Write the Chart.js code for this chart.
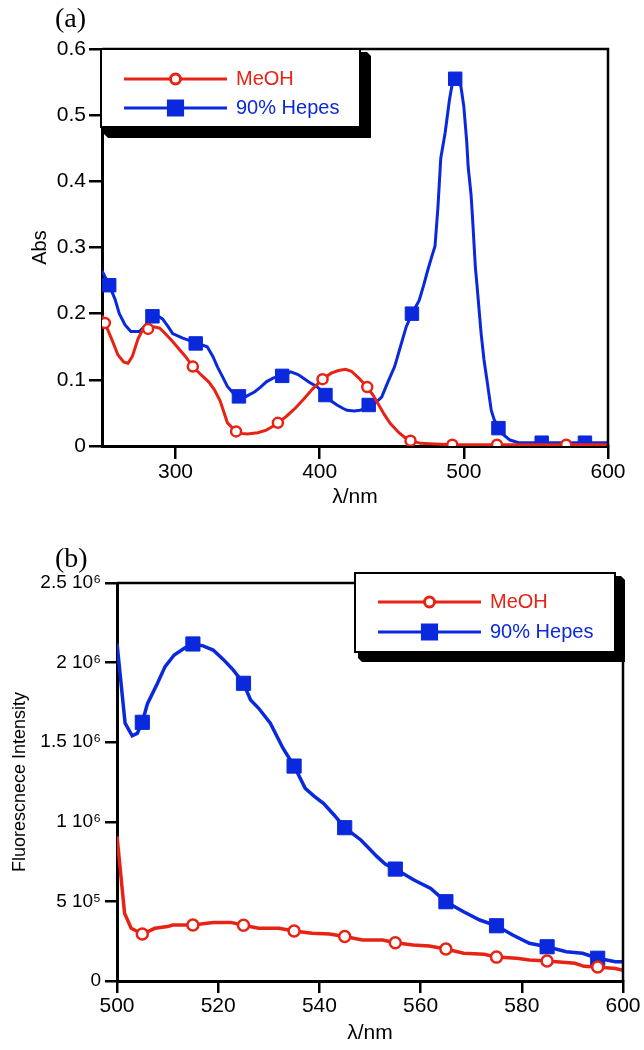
<!DOCTYPE html>
<html>
<head>
<meta charset="utf-8">
<script src="https://cdn.jsdelivr.net/npm/chart.js@4"></script>
<style>
  body { margin: 0; background: #fff; width: 644px; height: 1050px; position: relative; overflow: hidden; }
  canvas { position: absolute; left: 0; }
  .tag { position: absolute; left: 55px; font: 28px 'Liberation Serif', 'Times New Roman', serif; line-height: 1; }
</style>
</head>
<body>
<canvas id="abs" width="644" height="520" style="top:0"></canvas>
<canvas id="fl" width="644" height="530" style="top:520px"></canvas>
<div class="tag" style="top:4px">(a)</div>
<div class="tag" style="top:544px">(b)</div>
<script>
const seriesNames = ['MeOH', '90% Hepes']
const red = '#e62314'
const blue = '#0a28dc'

// (a) absorbance
const absMeohNm = [249, 251, 256, 260, 264, 267, 270, 274, 277, 281, 285, 289, 292, 298, 303, 307, 312, 318, 323, 327, 331, 336, 342, 346, 350, 357, 363, 367, 371, 377, 383, 389, 395, 402, 408, 413, 418, 422, 427, 433, 437, 441, 445, 449, 455, 459, 463, 470, 480, 492, 510, 523, 540, 571, 600]
const absMeoh = [0.197, 0.186, 0.160, 0.138, 0.127, 0.125, 0.135, 0.162, 0.175, 0.177, 0.180, 0.178, 0.172, 0.158, 0.145, 0.135, 0.120, 0.107, 0.097, 0.085, 0.068, 0.035, 0.022, 0.019, 0.018, 0.020, 0.024, 0.029, 0.035, 0.045, 0.057, 0.071, 0.086, 0.101, 0.110, 0.114, 0.116, 0.113, 0.103, 0.089, 0.077, 0.062, 0.047, 0.034, 0.020, 0.013, 0.008, 0.004, 0.003, 0.002, 0.002, 0.002, 0.002, 0.002, 0.002]
const absMeohMarks = [251, 281, 312, 342, 371, 402, 433, 463, 492, 523, 571]

const absHepesNm = [249, 254, 258, 261, 265, 269, 275, 279, 284, 288, 291, 295, 298, 305, 309, 314, 318, 322, 326, 329, 333, 336, 340, 344, 349, 355, 359, 363, 368, 374, 380, 385, 389, 393, 398, 404, 408, 412, 416, 419, 424, 428, 431, 434, 439, 443, 447, 452, 456, 460, 464, 469, 472, 475, 478, 480, 482, 484, 487, 490, 492, 494, 496, 498, 500, 502, 503, 505, 506, 508, 509, 511, 512, 514, 516, 519, 521, 524, 527, 532, 538, 554, 570, 584, 600]
const absHepes = [0.265, 0.243, 0.222, 0.200, 0.183, 0.173, 0.173, 0.182, 0.196, 0.196, 0.192, 0.180, 0.170, 0.163, 0.160, 0.155, 0.153, 0.150, 0.135, 0.120, 0.103, 0.090, 0.080, 0.075, 0.075, 0.082, 0.089, 0.097, 0.103, 0.106, 0.112, 0.108, 0.102, 0.096, 0.090, 0.077, 0.068, 0.062, 0.057, 0.054, 0.053, 0.054, 0.056, 0.062, 0.066, 0.074, 0.095, 0.120, 0.150, 0.180, 0.200, 0.220, 0.242, 0.266, 0.288, 0.302, 0.360, 0.435, 0.473, 0.523, 0.548, 0.555, 0.555, 0.543, 0.513, 0.460, 0.422, 0.380, 0.346, 0.270, 0.246, 0.195, 0.170, 0.130, 0.100, 0.054, 0.040, 0.027, 0.018, 0.009, 0.005, 0.005, 0.005, 0.005, 0.005]
const absHepesMarks = [254, 284, 314, 344, 374, 404, 434, 464, 494, 524, 554, 584]

const absXTicks = [300, 400, 500, 600]
const absYTicks = [0, 0.1, 0.2, 0.3, 0.4, 0.5, 0.6]

// (b) fluorescence
const flMeohNm = [500, 501.5, 502.8, 505, 507.5, 510, 511, 515, 519, 522.5, 525, 528, 532, 535, 538.5, 542, 545, 548.5, 552.5, 555, 558.5, 561.7, 565, 568.5, 572.5, 575, 579, 581.5, 585, 590.5, 592.3, 595, 598.5, 600]
const flMeoh = [0.91e6, 0.425e6, 0.331e6, 0.295e6, 0.331e6, 0.342e6, 0.352e6, 0.352e6, 0.368e6, 0.368e6, 0.350e6, 0.331e6, 0.331e6, 0.314e6, 0.300e6, 0.295e6, 0.279e6, 0.258e6, 0.258e6, 0.240e6, 0.226e6, 0.220e6, 0.201e6, 0.174e6, 0.168e6, 0.150e6, 0.143e6, 0.132e6, 0.126e6, 0.111e6, 0.092e6, 0.088e6, 0.079e6, 0.068e6]

const flHepesNm = [500, 501.6, 503, 504, 505, 506, 508, 509.5, 511.3, 513.3, 515, 517, 519, 521, 523, 525, 526.4, 528, 530.3, 532.8, 535, 537.2, 539, 540.8, 542.9, 545, 548.2, 551.4, 553, 555, 558.7, 562, 565, 568.5, 571.7, 575, 578.2, 581.5, 585, 588.8, 592, 595, 598.5, 600]
const flHepes = [2.12e6, 1.62e6, 1.54e6, 1.555e6, 1.625e6, 1.74e6, 1.87e6, 1.975e6, 2.048e6, 2.09e6, 2.117e6, 2.105e6, 2.079e6, 2.02e6, 1.953e6, 1.87e6, 1.765e6, 1.713e6, 1.619e6, 1.462e6, 1.35e6, 1.21e6, 1.16e6, 1.116e6, 1.043e6, 0.963e6, 0.886e6, 0.781e6, 0.735e6, 0.703e6, 0.634e6, 0.582e6, 0.498e6, 0.435e6, 0.383e6, 0.347e6, 0.289e6, 0.237e6, 0.215e6, 0.184e6, 0.174e6, 0.143e6, 0.121e6, 0.121e6]

const flMarks = [505, 515, 525, 535, 545, 555, 565, 575, 585, 595]
const flXTicks = [500, 520, 540, 560, 580, 600]
const flYTicks = [0, 5e5, 1e6, 1.5e6, 2e6, 2.5e6]
const flYLabels = ['0', '5 10⁵', '1 10⁶', '1.5 10⁶', '2 10⁶', '2.5 10⁶']

Chart.defaults.font.family = "'Liberation Sans', Arial, sans-serif"
Chart.defaults.color = '#000'

function pts (xs, ys) {
  return xs.map((x, i) => ({ x, y: ys[i] }))
}

function series (label, data, marks, color, style, r, lw) {
  const circle = style === 'circle'
  return {
    label,
    data,
    borderColor: color,
    borderWidth: lw,
    tension: 0,
    pointStyle: style,
    pointRadius: c => (c.raw && marks.includes(c.raw.x)) ? r : 0,
    pointHoverRadius: 0,
    pointBackgroundColor: circle ? '#fff' : color,
    pointBorderColor: color,
    pointBorderWidth: circle ? 2.5 : 1
  }
}

function axis (o) {
  return {
    type: 'linear',
    min: o.min,
    max: o.max,
    afterFit: s => {
      if (o.width) s.width = o.width
      if (o.height) s.height = o.height
    },
    afterBuildTicks: s => { s.ticks = o.ticks.map(v => ({ value: v })) },
    border: { display: true, color: '#000', width: 3 },
    grid: { drawOnChartArea: false, drawTicks: true, tickLength: o.tickLength, color: '#000', lineWidth: 2.5 },
    ticks: {
      color: '#000',
      font: { size: o.fontSize },
      padding: o.tickPad,
      maxRotation: 0,
      autoSkip: false,
      callback: (v, i) => o.labels ? o.labels[i] : String(v)
    },
    title: { display: true, text: o.title, color: '#000', font: { size: o.titleSize }, padding: o.titlePad }
  }
}

// top and right sides of the frame
const framePlugin = {
  id: 'frame',
  afterDatasetsDraw (chart) {
    const { ctx, chartArea: a } = chart
    ctx.save()
    ctx.strokeStyle = '#000'
    ctx.lineWidth = 2.5
    ctx.beginPath()
    ctx.moveTo(a.left, a.top)
    ctx.lineTo(a.right, a.top)
    ctx.lineTo(a.right, a.bottom)
    ctx.stroke()
    ctx.restore()
  }
}

// boxed legend with drop shadow
const boxLegend = {
  id: 'boxLegend',
  afterDraw (chart, args, o) {
    const ctx = chart.ctx
    const { l, t, r, b, sh } = o.box
    ctx.save()
    ctx.fillStyle = '#000'
    ctx.beginPath()
    ctx.moveTo(r, t + 3)
    ctx.lineTo(r + sh - 4, t + 3)
    ctx.lineTo(r + sh, t + 7)
    ctx.lineTo(r + sh, b + sh)
    ctx.lineTo(l + 7, b + sh)
    ctx.lineTo(l + 3, b + sh - 4)
    ctx.lineTo(l + 3, b)
    ctx.closePath()
    ctx.fill()
    ctx.fillStyle = '#fff'
    ctx.fillRect(l, t, r - l, b - t)
    ctx.lineWidth = 2
    ctx.strokeStyle = '#000'
    ctx.strokeRect(l, t, r - l, b - t)

    chart.data.datasets.forEach((ds, i) => {
      const y = o.rowY[i]
      ctx.strokeStyle = ds.borderColor
      ctx.lineWidth = 3
      ctx.beginPath()
      ctx.moveTo(o.x0, y)
      ctx.lineTo(o.x1, y)
      ctx.stroke()
      const circle = ds.pointStyle === 'circle'
      ctx.fillStyle = ds.pointBackgroundColor
      ctx.strokeStyle = ds.pointBorderColor
      Chart.helpers.drawPoint(ctx, {
        pointStyle: ds.pointStyle,
        radius: circle ? o.circleR : o.rectR,
        borderWidth: ds.pointBorderWidth,
        rotation: 0
      }, (o.x0 + o.x1) / 2, y)
      ctx.fillStyle = ds.borderColor
      ctx.font = o.fontSize + "px 'Liberation Sans', Arial, sans-serif"
      ctx.textBaseline = 'middle'
      ctx.textAlign = 'left'
      ctx.fillText(ds.label, o.textX, y)
    })
    ctx.restore()
  }
}

new Chart(document.getElementById('abs'), {
  type: 'line',
  data: {
    datasets: [
      series(seriesNames[0], pts(absMeohNm, absMeoh), absMeohMarks, red, 'circle', 5, 3),
      series(seriesNames[1], pts(absHepesNm, absHepes), absHepesMarks, blue, 'rect', 9.5, 3)
    ]
  },
  options: {
    responsive: false,
    animation: false,
    events: [],
    layout: { padding: { left: 0, right: 36, top: 49, bottom: 0 } },
    plugins: {
      legend: { display: false },
      tooltip: { enabled: false },
      boxLegend: {
        box: { l: 101, t: 49, r: 360, b: 127, sh: 11 },
        rowY: [79, 108], x0: 124, x1: 227, textX: 236, fontSize: 20, circleR: 5, rectR: 10
      }
    },
    scales: {
      x: axis({ min: 249, max: 600, ticks: absXTicks, height: 74, tickLength: 13, fontSize: 21, tickPad: 1, title: 'λ/nm', titleSize: 21, titlePad: { top: 0, bottom: 10.5 } }),
      y: axis({ min: 0, max: 0.6, ticks: absYTicks, width: 102, tickLength: 13, fontSize: 21, tickPad: 3, title: 'Abs', titleSize: 20, titlePad: { top: 28, bottom: 0 } })
    }
  },
  plugins: [framePlugin, boxLegend]
})

new Chart(document.getElementById('fl'), {
  type: 'line',
  data: {
    datasets: [
      series(seriesNames[0], pts(flMeohNm, flMeoh), flMarks, red, 'circle', 5.5, 3.5),
      series(seriesNames[1], pts(flHepesNm, flHepes), flMarks, blue, 'rect', 10, 3.5)
    ]
  },
  options: {
    responsive: false,
    animation: false,
    events: [],
    layout: { padding: { left: 0, right: 21, top: 63, bottom: 0 } },
    plugins: {
      legend: { display: false },
      tooltip: { enabled: false },
      boxLegend: {
        box: { l: 355, t: 53, r: 615, b: 132, sh: 10 },
        rowY: [82, 112], x0: 378, x1: 481, textX: 490, fontSize: 20, circleR: 5, rectR: 10
      }
    },
    scales: {
      x: axis({ min: 500, max: 600, ticks: flXTicks, height: 69, tickLength: 12, fontSize: 21, tickPad: 1, title: 'λ/nm', titleSize: 21, titlePad: { top: 0, bottom: 4.4 } }),
      y: axis({ min: 0, max: 2.5e6, ticks: flYTicks, labels: flYLabels, width: 117, tickLength: 12, fontSize: 19, tickPad: 4, title: 'Fluorescnece Intensity', titleSize: 18, titlePad: { top: 9, bottom: 0 } })
    }
  },
  plugins: [framePlugin, boxLegend]
})
</script>
</body>
</html>
